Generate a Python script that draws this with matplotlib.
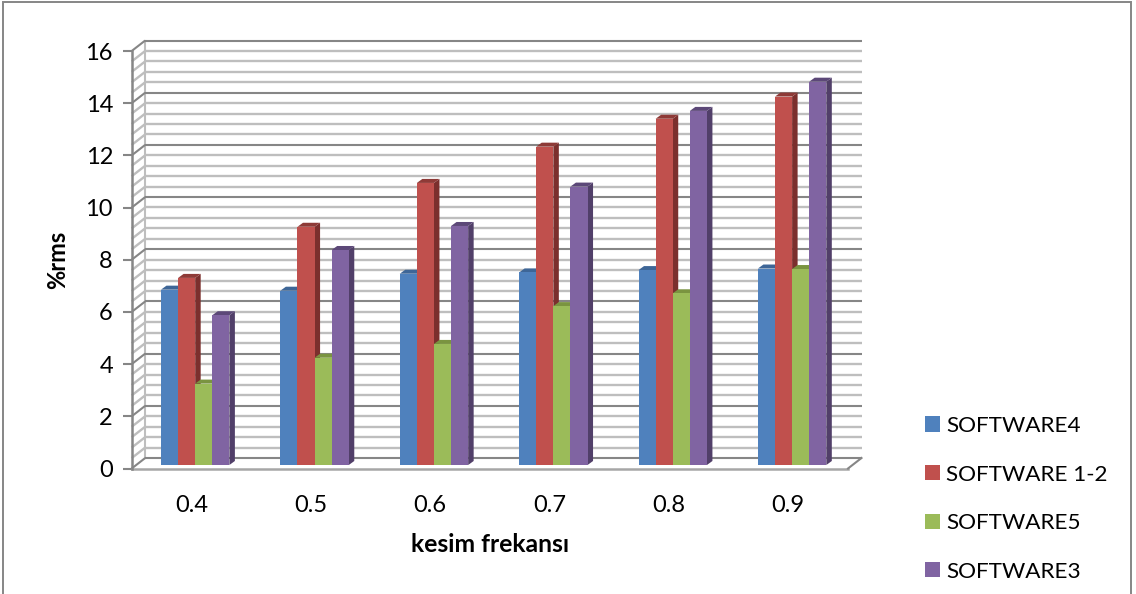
import numpy as np
import matplotlib
matplotlib.use("Agg")
import matplotlib.pyplot as plt
from matplotlib.patches import Polygon, Patch, Rectangle

plt.rcParams['font.family'] = ['Lato', 'DejaVu Sans']

categories = ['0.4', '0.5', '0.6', '0.7', '0.8', '0.9']
software4 = [6.72, 6.68, 7.33, 7.38, 7.47, 7.53]
software12 = [7.17, 9.13, 10.81, 12.20, 13.27, 14.12]
software5 = [3.12, 4.11, 4.64, 6.09, 6.58, 7.51]
software3 = [5.74, 8.24, 9.16, 10.67, 13.57, 14.69]
series_names = ['SOFTWARE4', 'SOFTWARE 1-2', 'SOFTWARE5', 'SOFTWARE3']
series_values = [software4, software12, software5, software3]
front_colors = ['#4F81BD', '#C0504D', '#9BBB59', '#8064A2']
shade_colors = ['#385D8A', '#7B2F2D', '#71893F', '#513F69']
top_colors = ['#3E6697', '#8E3A37', '#7A9440', '#5C4878']
y_major = [0, 2, 4, 6, 8, 10, 12, 14, 16]

W, H = 1136, 594
fig = plt.figure(figsize=(W / 100, H / 100), dpi=100, facecolor='white')
L, R, B, T = 131.7, 848.0, 468.5, 51.0
ax = fig.add_axes([L / W, 1 - B / H, (R - L) / W, (B - T) / H])
ax.set_xlim(0, 6)
ax.set_ylim(0, 16)
ax.patch.set_visible(False)

px = 6 / (R - L)          # data units per pixel, x
py = 16 / (B - T)         # data units per pixel, y
wall_dx, wall_dy = 13.5 * px, 10.5 * py
bar_dx, bar_dy = 5.5 * px, 4.0 * py
bar_base = 3.5 * py
bar_w = 17.1 * px
group_shift = 3.8 * px

MAJOR = '#868686'
MINOR = '#BEBEBE'

# walls and floor
n_minor = 40
for i in range(n_minor + 1):
    v = i * 0.4
    major = i % 5 == 0
    c, lw, z = (MAJOR, 1.5, 2) if major else (MINOR, 1.7, 1)
    ax.plot([wall_dx, 6 + wall_dx], [v + wall_dy] * 2, color=c, lw=lw, zorder=z,
            clip_on=False, solid_capstyle='butt')
    ax.plot([0, wall_dx], [v, v + wall_dy], color=c, lw=lw, zorder=z,
            clip_on=False, solid_capstyle='butt')
ax.plot([wall_dx, wall_dx], [wall_dy, 16 + wall_dy], color=MINOR, lw=1.5, zorder=1, clip_on=False)
ax.plot([0, 6], [0, 0], color='#A6A6A6', lw=1.8, zorder=3, clip_on=False)
ax.plot([6, 6 + wall_dx], [0, wall_dy], color=MAJOR, lw=1.5, zorder=3, clip_on=False)

# bars
for g in range(len(categories)):
    start = g + 0.5 + group_shift - 2 * bar_w
    for s, vals in enumerate(series_values):
        v = vals[g]
        x0 = start + s * bar_w
        x1 = x0 + bar_w
        z = 5 + g * 0.1 + s * 0.01
        ax.add_patch(Polygon([(x1, bar_base), (x1 + bar_dx, bar_base + bar_dy),
                              (x1 + bar_dx, bar_base + v + bar_dy), (x1, bar_base + v)],
                             closed=True, fc=shade_colors[s], ec='none', zorder=z, clip_on=False))
        ax.add_patch(Polygon([(x0, bar_base + v), (x0 + bar_dx, bar_base + v + bar_dy),
                              (x1 + bar_dx, bar_base + v + bar_dy), (x1, bar_base + v)],
                             closed=True, fc=top_colors[s], ec='none', zorder=z, clip_on=False))
        ax.bar(x0, v, width=bar_w, bottom=bar_base, align='edge', color=front_colors[s],
               zorder=z, clip_on=False, linewidth=0)

# axes
for sp in ['top', 'right', 'bottom']:
    ax.spines[sp].set_visible(False)
ax.spines['left'].set_color(MAJOR)
ax.spines['left'].set_linewidth(1.8)
ax.spines['left'].set_zorder(4)
ax.set_yticks(y_major)
ax.set_xticks(np.arange(len(categories)) + 0.5)
ax.set_xticklabels(categories)
ax.tick_params(axis='y', length=6.5, width=1.5, color=MAJOR, labelsize=17, pad=7, labelcolor='black')
ax.tick_params(axis='x', length=0, labelsize=17, pad=19, labelcolor='black')
ax.set_xlabel('kesim frekansı', fontsize=17.8, fontweight='bold', labelpad=12)
ax.set_ylabel('%rms', fontsize=17, fontweight='bold', labelpad=12)

# legend
handles = [Patch(facecolor=c, edgecolor='none') for c in front_colors]
fig.legend(handles, series_names, loc='upper left', bbox_to_anchor=(925 / W, 1 - 416 / H),
           frameon=False, fontsize=16.2, handlelength=0.67, handleheight=0.67,
           handletextpad=0.27, labelspacing=1.27, borderpad=0, borderaxespad=0)

# outer frame
fig.add_artist(Rectangle((3.5 / W, -0.02), (1131 - 3.5) / W, 1.02 - 1.5 / H,
                         transform=fig.transFigure, fc='none', ec=MAJOR, lw=1.4))

fig.savefig('out.png', dpi=100, facecolor='white')
